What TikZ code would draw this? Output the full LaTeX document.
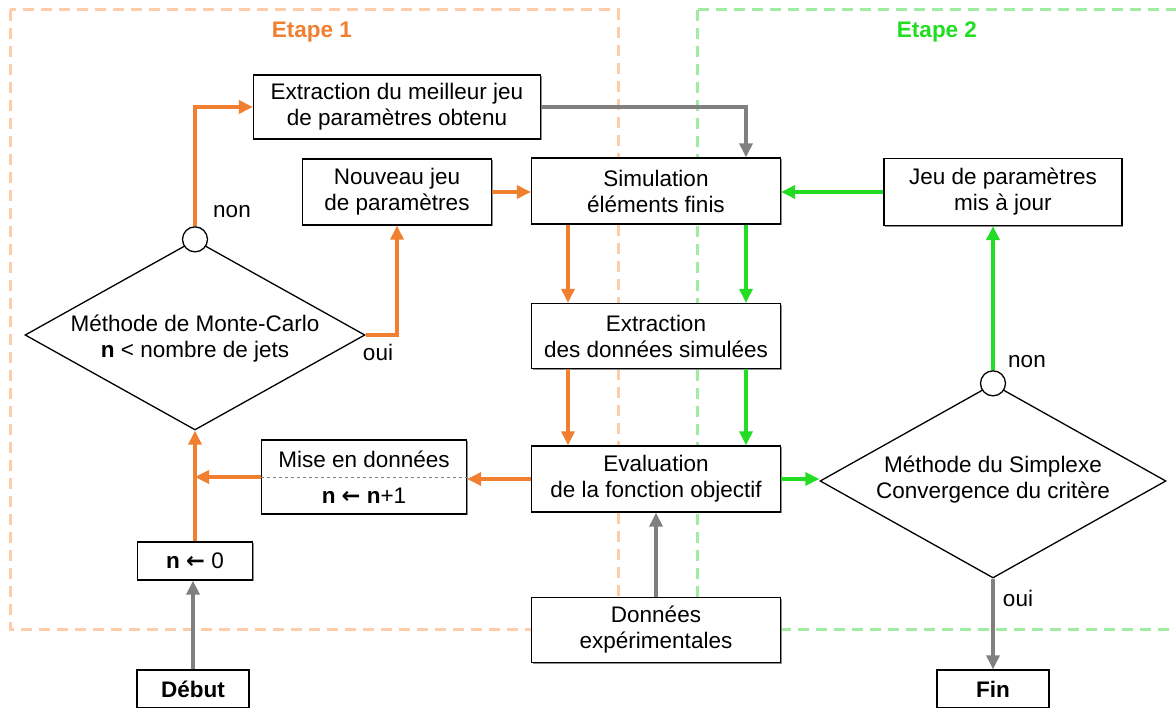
\documentclass[tikz,border=0pt]{standalone}
\usepackage{fontspec}
\setmainfont{Liberation Sans}
\newfontfamily\arrfont{DejaVu Sans}
\usetikzlibrary{arrows.meta,shapes.geometric,calc,shadows}
\definecolor{orA}{RGB}{240,128,48}
\definecolor{orL}{RGB}{255,204,170}
\definecolor{grA}{RGB}{34,221,34}
\definecolor{grL}{RGB}{160,236,160}
\definecolor{grayA}{RGB}{128,128,128}
\tikzset{
  txt/.style={font=\fontsize{22.5}{26}\selectfont},
  box/.style={txt, draw=black, line width=1.3pt, fill=white, align=center, inner sep=0pt,
    drop shadow={shadow xshift=1.2pt, shadow yshift=-1.2pt, fill=black!45, opacity=1}},
  dia/.style={draw=black, line width=1.3pt, diamond, fill=white, inner sep=0pt},
  knob/.style={circle, draw=black, line width=1.3pt, fill=white, minimum size=25pt, inner sep=0pt},
  oarr/.style={draw=orA, line width=3.2pt, -{Triangle[length=14pt,width=13pt]}},
  garr/.style={draw=grA, line width=3.2pt, -{Triangle[length=14pt,width=13pt]}},
  karr/.style={draw=grayA, line width=3.2pt, -{Triangle[length=14pt,width=13pt]}},
  zone/.style={line width=3pt, dash pattern=on 11pt off 7pt},
  lbl/.style={txt},
}
\begin{document}
\begin{tikzpicture}[x=1pt,y=-1pt]
\clip (0,0) rectangle (1176,708);
\fill[white] (0,0) rectangle (1176,708);
% zones
\draw[zone, draw=orL] (10,10) rectangle (618,629);
\draw[zone, draw=grL] (697,10) rectangle (1200,629);
\node[font=\bfseries\fontsize{22.5}{26}\selectfont, text=orA] (et1) at (312,32) {Etape 1};
\node[font=\bfseries\fontsize{22.5}{26}\selectfont, text=grA] (et2) at (937,32) {Etape 2};

% boxes
\node[box, minimum width=287pt, minimum height=64pt] (extr) at (397,107) {Extraction du meilleur jeu\\de paramètres obtenu};
\node[box, minimum width=189pt, minimum height=66pt] (nouv) at (397,192) {Nouveau jeu\\de paramètres};
\node[box, minimum width=249pt, minimum height=66pt] (sim) at (656,191) {Simulation\\éléments finis};
\node[box, minimum width=238pt, minimum height=67pt] (jeu) at (1003,192) {Jeu de paramètres\\mis à jour};
\node[box, minimum width=249pt, minimum height=65pt] (exd) at (656,336) {Extraction\\des données simulées};
\node[box, minimum width=249pt, minimum height=66pt] (eval) at (656,479) {Evaluation\\de la fonction objectif};
\node[box, minimum width=249pt, minimum height=65pt] (don) at (656,630) {Données\\expérimentales};
\node[box, minimum width=205pt, minimum height=74pt] (mise) at (364,477) {};
\draw[grayA, line width=0.9pt, dashed] (mise.west) -- (mise.east);
\node[txt] (miseA) at (364,459) {Mise en données};
\node[txt] (miseB) at (364,496) {\textbf{n} {\arrfont\bfseries ←} \textbf{n}+1};
\node[box, minimum width=115pt, minimum height=38pt] (n0) at (195,561) {\textbf{n} {\arrfont\bfseries ←} 0};
\node[box, minimum width=112pt, minimum height=38pt, font=\bfseries\fontsize{22.5}{26}\selectfont] (deb) at (193,689) {Début};
\node[box, minimum width=112pt, minimum height=38pt, font=\bfseries\fontsize{22.5}{26}\selectfont] (fin) at (993,689) {Fin};

% diamonds
\node[dia, minimum width=340pt, minimum height=190pt] (mc) at (195,335) {};
\node[txt, align=center] (mct) at (195,339) {Méthode de Monte-Carlo\\\textbf{n} < nombre de jets};
\node[knob] (mck) at (mc.north) {};
\node[dia, minimum width=346pt, minimum height=194pt] (smp) at (993,481) {};
\node[txt, align=center] (smpt) at (993,480) {Méthode du Simplexe\\Convergence du critère};
\node[knob] (smk) at (smp.north) {};

% labels
\node[lbl] (l1) at (232,212) {non};
\node[lbl] (l2) at (378,352) {oui};
\node[lbl] (l3) at (1027,362) {non};
\node[lbl] (l4) at (1018,598) {oui};

% connectors
\draw[oarr] (mck.north) |- (extr.west);
\draw[karr] (extr.east) -| ($(sim.north)+(90,0)$);
\draw[oarr] (nouv.east) -- (nouv.east -| sim.west);
\draw[oarr] (mc.east) -| (nouv.south);
\draw[garr] (jeu.west) -- (jeu.west -| sim.east);
\draw[oarr] ($(sim.south)+(-88,0)$) -- ($(exd.north)+(-88,0)$);
\draw[garr] ($(sim.south)+(90,0)$) -- ($(exd.north)+(90,0)$);
\draw[oarr] ($(exd.south)+(-88,0)$) -- ($(eval.north)+(-88,0)$);
\draw[garr] ($(exd.south)+(90,0)$) -- ($(eval.north)+(90,0)$);
\draw[oarr] (eval.west) -- (eval.west -| mise.east);
\draw[oarr] (mise.west) -- (mise.west -| mc.south);
\draw[oarr] (n0.north) -- (mc.south);
\draw[karr] (deb.north) -- (deb.north |- n0.south);
\draw[karr] (don.north) -- (eval.south);
\draw[garr] (eval.east) -- (eval.east -| smp.west);
\draw[garr] (smk.north) -- (smk.north |- jeu.south);
\draw[karr] (smp.south) -- (fin.north);
\end{tikzpicture}
\end{document}
